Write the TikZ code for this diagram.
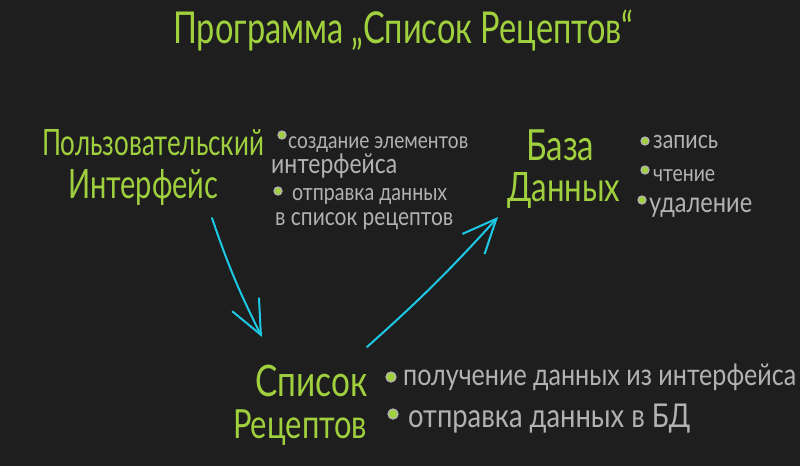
\documentclass[tikz,border=0pt]{standalone}
\usepackage{fontspec}
\setmainfont{Lato}
\usetikzlibrary{arrows.meta}
\definecolor{bgc}{RGB}{30,30,30}
\definecolor{grn}{RGB}{160,208,62}
\definecolor{cyn}{RGB}{28,200,228}
\definecolor{gry}{RGB}{178,178,178}
\newcommand{\fitw}[3][1.3]{\resizebox{#2}{!}{\scalebox{1}[#1]{#3}}}
\tikzset{
  titletext/.style={text=grn, inner sep=0, anchor=base west},
  headtext/.style={text=grn, inner sep=0, anchor=base west},
  notetext/.style={text=gry, inner sep=0, anchor=base west},
  dot/.style={circle, draw=gry, fill=grn, line width=1.3pt, minimum size=8pt, inner sep=0},
  bigdot/.style={dot, minimum size=10pt},
  flow/.style={draw=cyn, line width=2pt, line cap=round,
    -{Straight Barb[length=34pt, width=30pt]}},
}
\begin{document}
\begin{tikzpicture}[x=1pt,y=-1pt]
\fill[bgc] (0,0) rectangle (800,466);
\useasboundingbox (0,0) rectangle (800,466);

\node[titletext] (title) at (173,43) {\fitw[1.35]{460pt}{Программа „Список Рецептов“}};

\node[headtext] (ui1) at (42,155) {\fitw[1.4]{222pt}{Пользовательский}};
\node[headtext] (ui2) at (68,198) {\fitw[1.4]{150pt}{Интерфейс}};
\node[headtext] (db1) at (526,160) {\fitw[1.3]{68pt}{База}};
\node[headtext] (db2) at (507,201) {\fitw[1.3]{113pt}{Данных}};
\node[headtext] (rl1) at (255,396) {\fitw[1.3]{112pt}{Список}};
\node[headtext] (rl2) at (233,438) {\fitw[1.3]{134pt}{Рецептов}};

\node[dot] (b1) at (282,135) {};
\node[notetext] (n1) at (288,148) {\fitw[1.2]{180pt}{создание элементов}};
\node[notetext] (n2) at (271,173) {\fitw[1.2]{126pt}{интерфейса}};
\node[dot] (b2) at (278,191) {};
\node[notetext] (n3) at (292,200) {\fitw[1.2]{155pt}{отправка данных}};
\node[notetext] (n4) at (275,225) {\fitw[1.2]{178pt}{в список рецептов}};

\node[dot] (b3) at (645,141) {};
\node[notetext] (d1) at (653,148) {\fitw[1.2]{65pt}{запись}};
\node[dot] (b4) at (645,170) {};
\node[notetext] (d2) at (653,181) {\fitw[1.2]{62pt}{чтение}};
\node[dot] (b5) at (642,200) {};
\node[notetext] (d3) at (649,212) {\fitw[1.2]{103pt}{удаление}};

\node[bigdot] (b6) at (391,377) {};
\node[notetext] (r1) at (403,385) {\fitw[1.2]{393pt}{получение данных из интерфейса}};
\node[bigdot] (b7) at (393,414) {};
\node[notetext] (r2) at (408,427) {\fitw[1.2]{282pt}{отправка данных в БД}};

\coordinate (a1s) at (212,218);
\coordinate (a1e) at (262,337);
\coordinate (a2s) at (367,347);
\coordinate (a2e) at (498,217);
\draw[flow] (a1s) to[bend right=4] (a1e);
\draw[flow] (a2s) to[bend right=3] (a2e);
\end{tikzpicture}
\end{document}
